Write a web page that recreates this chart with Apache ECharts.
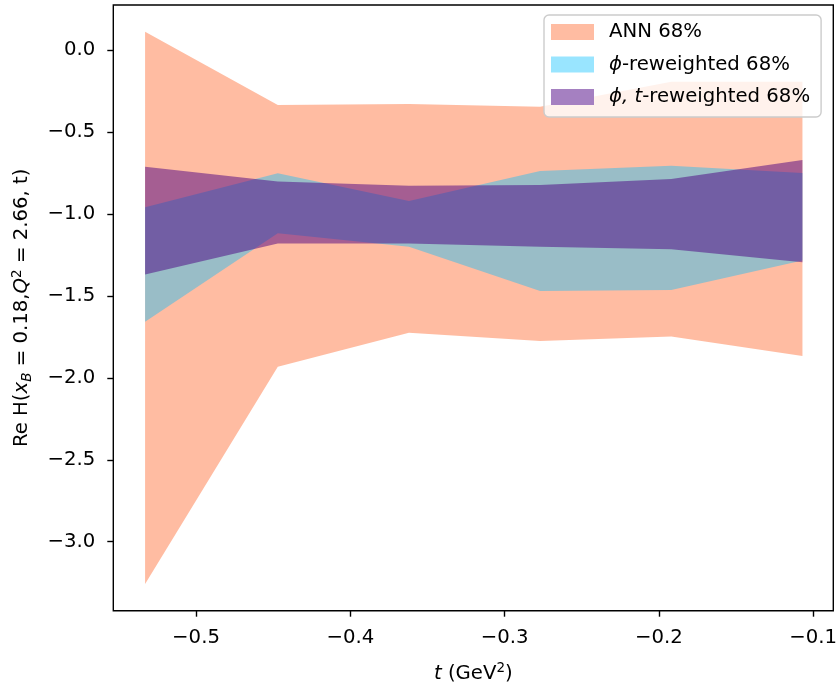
<!DOCTYPE html>
<html>
<head>
<meta charset="utf-8">
<script src="https://cdn.jsdelivr.net/npm/echarts@6/dist/echarts.min.js"></script>
<style>
html,body{margin:0;padding:0;background:#fff;}
#chart{width:839px;height:682px;}
</style>
</head>
<body>
<div id="chart"></div>
<script>
// ---- data ----
var tValues   = [-0.533, -0.447, -0.362, -0.277, -0.192, -0.107];
var annLow    = [-3.258, -1.932, -1.725, -1.775, -1.748, -1.867];
var annHigh   = [ 0.112, -0.336, -0.329, -0.346, -0.193, -0.193];
var phiLow    = [-1.658, -1.118, -1.200, -1.470, -1.464, -1.285];
var phiHigh   = [-0.960, -0.752, -0.921, -0.738, -0.706, -0.750];
var phitLow   = [-1.369, -1.180, -1.180, -1.200, -1.216, -1.295];
var phitHigh  = [-0.712, -0.803, -0.828, -0.824, -0.787, -0.671];
var xTicks = [-0.5, -0.4, -0.3, -0.2, -0.1];
var yTicks = [0.0, -0.5, -1.0, -1.5, -2.0, -2.5, -3.0];
var seriesNames = ['ANN 68%', 'phi-reweighted 68%', 'phi,t-reweighted 68%'];

var FONT = 'DejaVu Sans';
var FS = 19.7;

function fmt(v) {
  var s = Math.abs(v).toFixed(1);
  return (v < -1e-9 ? '\u2212' : '') + s;
}

function band(low, high, fill) {
  return function (params, api) {
    if (params.dataIndex !== 0) return null;
    var pts = [];
    for (var i = 0; i < tValues.length; i++) pts.push(api.coord([tValues[i], high[i]]));
    for (var j = tValues.length - 1; j >= 0; j--) pts.push(api.coord([tValues[j], low[j]]));
    return { type: 'polygon', shape: { points: pts }, style: { fill: fill } };
  };
}

function mkData(low, high) {
  return tValues.map(function (t, i) { return [t, low[i], high[i]]; });
}

var cANN = 'rgba(255,160,122,0.7)';
var cPhi = 'rgba(0,191,255,0.4)';
var cPhiT = 'rgba(75,0,130,0.5)';

var chart = echarts.init(document.getElementById('chart'), null, { renderer: 'canvas' });
chart.setOption({
  animation: false,
  backgroundColor: '#fff',
  textStyle: { fontFamily: FONT },
  grid: { left: 113.3, right: 5.7, top: 5, bottom: 71.3, outerBoundsMode: 'none', containLabel: false, show: true, borderColor: '#000', borderWidth: 1.4, backgroundColor: 'transparent' },
  xAxis: {
    type: 'value', min: -0.5536, max: -0.087,
    axisLine: { show: false, onZero: false },
    splitLine: { show: false },
    axisTick: { show: true, length: 6, lineStyle: { color: '#000', width: 1.4 }, customValues: xTicks },
    axisLabel: { color: '#000', fontFamily: FONT, fontSize: FS, margin: 17, formatter: fmt, customValues: xTicks },
    name: '{i|t} (GeV{sup|2})',
    nameLocation: 'middle', nameGap: 63,
    nameTextStyle: {
      color: '#000', fontFamily: FONT, fontSize: FS, lineHeight: 24, verticalAlign: 'middle',
      rich: {
        i: { fontStyle: 'italic', fontSize: FS, fontFamily: FONT, lineHeight: 24, color: '#000' },
        sup: { fontSize: 13.5, fontFamily: FONT, verticalAlign: 'top', lineHeight: 14, color: '#000' }
      }
    }
  },
  yAxis: {
    type: 'value', min: -3.421, max: 0.2746,
    axisLine: { show: false, onZero: false },
    splitLine: { show: false },
    axisTick: { show: true, length: 6, lineStyle: { color: '#000', width: 1.4 }, customValues: yTicks },
    axisLabel: { color: '#000', fontFamily: FONT, fontSize: FS, margin: 18, formatter: fmt, customValues: yTicks },
    name: 'Re H({i|x}{sub|B} = 0.18,{i|Q}{sup|2} = 2.66, t)',
    nameLocation: 'middle', nameGap: 79, nameRotate: 90,
    nameTextStyle: {
      color: '#000', fontFamily: FONT, fontSize: FS, lineHeight: 24,
      rich: {
        i: { fontStyle: 'italic', fontSize: FS, fontFamily: FONT, lineHeight: 24, color: '#000' },
        sub: { fontStyle: 'italic', fontSize: 13.5, fontFamily: FONT, verticalAlign: 'bottom', lineHeight: 14, color: '#000' },
        sup: { fontSize: 13.5, fontFamily: FONT, verticalAlign: 'top', lineHeight: 14, color: '#000' }
      }
    }
  },
  legend: {
    orient: 'vertical', left: 544, top: 15,
    backgroundColor: 'rgba(255,255,255,0.8)', borderColor: '#cccccc', borderWidth: 1.4, borderRadius: 5,
    padding: [7, 11, 10, 7],
    itemWidth: 43, itemHeight: 16, itemGap: 12.5, icon: 'rect',
    textStyle: { fontFamily: FONT, fontSize: FS, color: '#000', lineHeight: 20, padding: [0, 0, 0, 10],
      rich: {
        i: { fontStyle: 'italic', fontFamily: FONT, fontSize: FS, color: '#000', lineHeight: 20 },
        n: { fontFamily: FONT, fontSize: FS, color: '#000', lineHeight: 20 }
      }
    },
    formatter: function (name) {
      if (name === seriesNames[0]) return '{n|ANN 68%}';
      if (name === seriesNames[1]) return '{i|\u03D5}{n|-reweighted 68%}';
      return '{i|\u03D5, t}{n|-reweighted 68%}';
    },
    data: [
      { name: seriesNames[0], itemStyle: { color: '#FFBCA2' } },
      { name: seriesNames[1], itemStyle: { color: '#99E5FF' } },
      { name: seriesNames[2], itemStyle: { color: '#A580C1' } }
    ]
  },
  series: [
    { type: 'custom', name: seriesNames[0], data: mkData(annLow, annHigh), renderItem: band(annLow, annHigh, cANN), itemStyle: { color: cANN }, z: 2 },
    { type: 'custom', name: seriesNames[1], data: mkData(phiLow, phiHigh), renderItem: band(phiLow, phiHigh, cPhi), itemStyle: { color: cPhi }, z: 3 },
    { type: 'custom', name: seriesNames[2], data: mkData(phitLow, phitHigh), renderItem: band(phitLow, phitHigh, cPhiT), itemStyle: { color: cPhiT }, z: 4 }
  ]
});
</script>
</body>
</html>
